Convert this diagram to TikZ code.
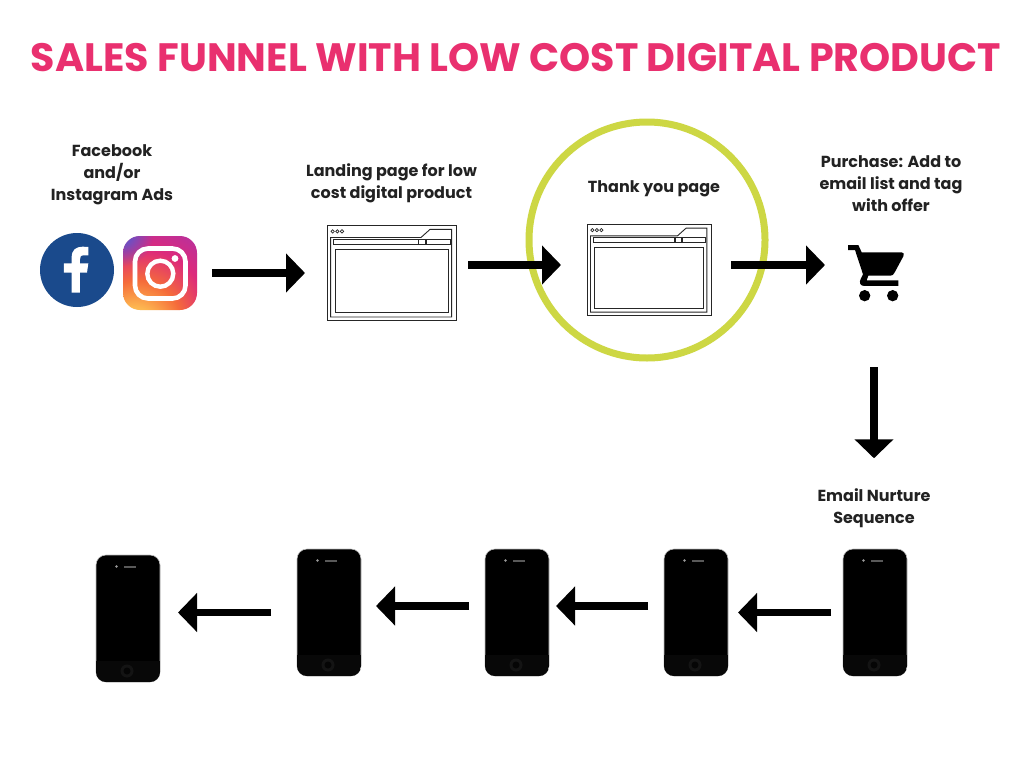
\documentclass[tikz,border=0pt]{standalone}
\usepackage{fontspec}
\setmainfont{Poppins}
\usetikzlibrary{arrows.meta,fadings}
\definecolor{titlepink}{HTML}{E9306F}
\definecolor{ringgreen}{HTML}{CDD744}
\definecolor{fbblue}{HTML}{1A4A8C}
\definecolor{labelink}{HTML}{222222}
\definecolor{igA}{HTML}{FFE08A}
\definecolor{igB}{HTML}{FDB750}
\definecolor{igC}{HTML}{F56B3A}
\definecolor{igD}{HTML}{DD2A7B}
\definecolor{igE}{HTML}{A733AC}
\definecolor{igF}{HTML}{7A3CBC}
\definecolor{igG}{HTML}{4F5BD5}
\pgfdeclareradialshading{igshade}{\pgfpoint{-22bp}{-50bp}}{
  color(0bp)=(igA);
  color(8bp)=(igA);
  color(18bp)=(igB);
  color(30bp)=(igC);
  color(44bp)=(igD);
  color(62bp)=(igE);
  color(80bp)=(igF);
  color(100bp)=(igF)}
\tikzfading[name=igblue,inner color=transparent!0,outer color=transparent!100]
\tikzset{
  x=1pt,y=-1pt,
  flow/.style={line width=7.5pt,-{Triangle[length=19pt,width=38pt]},black},
  lbl/.style={font=\bfseries\fontsize{16}{22}\selectfont,text=labelink,align=center,inner sep=0pt},
  holder/.style={inner sep=0pt,outer sep=0pt},
  wire/.style={line width=0.9pt,draw=black!85,fill=none},
  phonebody/.style={fill=black,draw=black!25,line width=0.6pt,rounded corners=10pt}
}
\newcommand{\browserpic}[5]{%
  \node[holder,minimum width=#4pt,minimum height=#5pt] (#1) at (#2,#3) {};
  \begin{scope}[shift={(#1.north west)},x=#4/387*1pt,y=-#5/282*1pt]
    \draw[wire] (0,0) rectangle (387,282);
    \draw[wire] (11,37) -- (282,37) -- (309,13) -- (374,13) -- (374,273) -- (11,273) -- cycle;
    \draw[wire] (19,43) rectangle (371,58);
    \draw[line width=1.5pt,black!85] (275,43) -- (275,58) (297,43) -- (297,58);
    \draw[wire] (24,72) rectangle (364,261);
    \foreach \cx in {17,31,45} \draw[line width=0.7pt,black!85] (\cx,19) circle [radius=5];
  \end{scope}}
\newcommand{\phonepic}[3]{%
  \node[holder,minimum width=64pt,minimum height=127pt] (#1) at (#2,#3) {};
  \begin{scope}[shift={(#1.north west)}]
    \draw[phonebody] (0,0) rectangle (64,127);
    \begin{scope}
      \clip[rounded corners=10pt] (0,0) rectangle (64,127);
      \fill[black!97] (0,106) rectangle (64,127);
    \end{scope}
    \fill[black!40] (20.5,11.5) circle [radius=1.4];
    \fill[black!65] (28,11) rectangle (40,13);
    \fill[black!92] (31,116) circle [radius=6.5];
    \fill[black!98] (31,116) circle [radius=3.5];
  \end{scope}}
\begin{document}
\begin{tikzpicture}
\useasboundingbox (0,0) rectangle (1024,768);
\fill[white] (0,0) rectangle (1024,768);

\node[font=\bfseries\fontsize{39.6}{44}\selectfont,text=titlepink,inner sep=0pt] (title) at (516,58) {SALES FUNNEL WITH LOW COST DIGITAL PRODUCT};

\node[circle,draw=ringgreen,line width=7pt,minimum size=236pt,inner sep=0pt] (ring) at (647,240) {};

% Facebook
\node[circle,fill=fbblue,minimum size=74pt,inner sep=0pt] (fb) at (77,270) {};
\begin{scope}[shift={(30,220)},x=0.3333pt,y=-0.3333pt]
\fill[white] (125,218) -- (125,158) -- (102,158) -- (102,130) -- (125,130) -- (125,112) .. controls (125,90) and (138,80) .. (158,80) -- (175,81) -- (175,106) -- (162,106) .. controls (152,106) and (150,110) .. (150,118) -- (150,130) -- (175,130) -- (171,158) -- (150,158) -- (150,218) -- cycle;
\end{scope}

% Instagram
\node[holder,minimum size=74pt] (ig) at (160,273) {};
\begin{scope}
\clip[rounded corners=17pt] (ig.south west) rectangle (ig.north east);
\shade[shading=igshade] (ig.south west) rectangle (ig.north east);
\fill[igG,path fading=igblue,fit fading=true] (ig.north west) circle [radius=30];
\end{scope}
\draw[white,line width=4.6pt,rounded corners=13pt] (135,248.5) rectangle (185.5,298.5);
\draw[white,line width=4.4pt] (160.3,273.7) circle [radius=13];
\fill[white] (175,258.5) circle [radius=3.4];

\browserpic{b1}{391.5}{272.5}{129}{95}
\browserpic{b2}{649}{269.5}{124}{91}

% Cart
\node[holder,minimum width=57pt,minimum height=56pt] (cart) at (876.5,273) {};
\begin{scope}[shift={(835,235)},x=0.3333pt,y=-0.3333pt]
\fill[black,line join=round] (39,30) -- (70,30) -- (80,52) -- (200,52) .. controls (207,52) and (208,58) .. (205,64) -- (178,114) .. controls (175,120) and (172,122) .. (165,122) -- (100,122) -- (95,136) -- (190,136) -- (190,153) -- (88,153) .. controls (75,153) and (72,142) .. (77,132) -- (84,118) -- (60,45) -- (39,45) -- cycle;
\fill (89,182) circle [radius=17];
\fill (173,182) circle [radius=17];
\end{scope}

% Phones
\phonepic{p1}{128}{618.5}
\phonepic{p2}{329}{612.5}
\phonepic{p3}{517}{612.5}
\phonepic{p4}{696}{612.5}
\phonepic{p5}{875}{612.5}

% Labels
\node[lbl] (l1) at (112,175) {Facebook\\and/or\\Instagram Ads};
\node[lbl] (l2) at (391.5,183) {Landing page for low\\cost digital product};
\node[lbl] (l3) at (654,189) {Thank you page};
\node[lbl] (l4) at (891,184) {Purchase: Add to\\email list and tag\\with offer};
\node[lbl] (l5) at (874,508) {Email Nurture\\Sequence};

% Arrows
\draw[flow,shorten <=15pt,shorten >=22pt] (ig.east) -- ([yshift=-0.5pt]b1.west);
\draw[flow,shorten <=12pt,shorten >=26pt] ([yshift=7.5pt]b1.east) -- ([yshift=4.5pt]b2.west);
\draw[flow,shorten <=20pt,shorten >=23pt] ([yshift=4.5pt]b2.east) -- ([yshift=8pt]cart.west);
\draw[flow,shorten <=66pt,shorten >=30pt] ([xshift=-2.5pt]cart.south) -- (l5.north);
\draw[flow,shorten <=12pt,shorten >=10pt] (p5.west) -- (p4.east);
\draw[flow,shorten <=16pt,shorten >=7pt] ([yshift=6.5pt]p4.west) -- ([yshift=6.5pt]p3.east);
\draw[flow,shorten <=16pt,shorten >=15pt] ([yshift=6.5pt]p3.west) -- ([yshift=6.5pt]p2.east);
\draw[flow,shorten <=26pt,shorten >=18pt] (p2.west) -- ([yshift=6pt]p1.east);
\end{tikzpicture}
\end{document}
